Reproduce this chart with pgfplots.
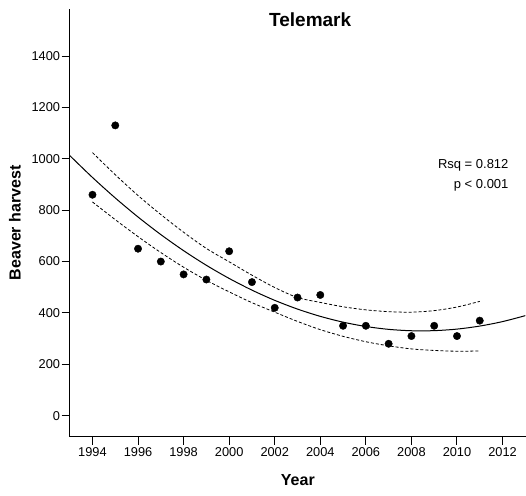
\documentclass[border=0pt]{standalone}
\usepackage{fontspec}
\setmainfont{Liberation Sans}
\usepackage{pgfplots}
\pgfplotsset{compat=1.18}

\begin{document}
\begin{tikzpicture}
\begin{axis}[
    scale only axis,
    width=456.3pt, height=427.7pt,
    xmin=1993, xmax=2013.03,
    ymin=-81.7, ymax=1583,
    axis x line=bottom, axis y line=left,
    axis line style={-, line width=1.2pt},
    xtick={1994,1996,...,2012},
    ytick={0,200,...,1400},
    tick align=outside,
    major tick length=8pt,
    tick style={black, line width=1pt},
    /pgf/number format/1000 sep={},
    /pgf/number format/assume math mode=true,
    ticklabel style={font=\fontsize{12.8}{14}\selectfont},
    yticklabel style={inner sep=1.5pt},
    xticklabel style={inner sep=3pt},
    xlabel={Year},
    ylabel={Beaver harvest},
    xlabel style={font=\fontsize{16}{18}\selectfont\bfseries,
        at={(axis description cs:0.5,-0.1012)}, anchor=center},
    ylabel style={font=\fontsize{16}{18}\selectfont\bfseries,
        at={(axis description cs:-0.1199,0.5)}, anchor=center},
    clip=false,
]
% observed harvest
\addplot[only marks, mark=*, mark size=3.7pt, black] coordinates {
    (1994,860) (1995,1130) (1996,650) (1997,600) (1998,550) (1999,530)
    (2000,640) (2001,520) (2002,420) (2003,460) (2004,470) (2005,350)
    (2006,350) (2007,280) (2008,310) (2009,350) (2010,310) (2011,370)};
% quadratic fit
\addplot[black, line width=1pt, smooth] coordinates {
    (1993,1012.8) (1994,927.3) (1995,847.5) (1996,773.4) (1997,705.0)
    (1998,642.4) (1999,585.4) (2000,534.3) (2001,488.8) (2002,449.0)
    (2003,415.0) (2004,386.7) (2005,364.1) (2006,347.3) (2007,336.1)
    (2008,330.7) (2009,331.1) (2010,337.1) (2011,348.9) (2012,366.3)
    (2013,389.5)};
% confidence band
\addplot[black, line width=0.8pt, smooth, dash pattern=on 3pt off 2pt] coordinates {
    (1994,1024) (1995,938) (1996,857) (1997,783) (1998,714) (1999,651)
    (2000,599) (2001,547) (2002,499) (2003,460) (2004,441) (2005,424)
    (2006,412) (2007,405) (2008,403) (2009,409) (2010,423) (2011,445)};
\addplot[black, line width=0.8pt, smooth, dash pattern=on 3pt off 2pt] coordinates {
    (1994,832) (1995,763) (1996,697) (1997,635) (1998,578) (1999,527)
    (2000,482) (2001,440) (2002,403) (2003,367) (2004,335) (2005,309)
    (2006,288) (2007,272) (2008,260) (2009,254) (2010,251) (2011,252)};
\node[font=\fontsize{19}{22}\selectfont\bfseries] at (rel axis cs:0.527,0.974) {Telemark};
\node[anchor=east, inner sep=0pt, font=\fontsize{13}{15}\selectfont] at (rel axis cs:0.962,0.6336) {Rsq = 0.812};
\node[anchor=east, inner sep=0pt, font=\fontsize{13}{15}\selectfont] at (rel axis cs:0.962,0.587) {p < 0.001};
\end{axis}
\pgfresetboundingbox
\path ([shift={(-69.7pt,-58.3pt)}]current axis.south west) rectangle ([shift={(0pt,9pt)}]current axis.north east);
\end{tikzpicture}
\end{document}
